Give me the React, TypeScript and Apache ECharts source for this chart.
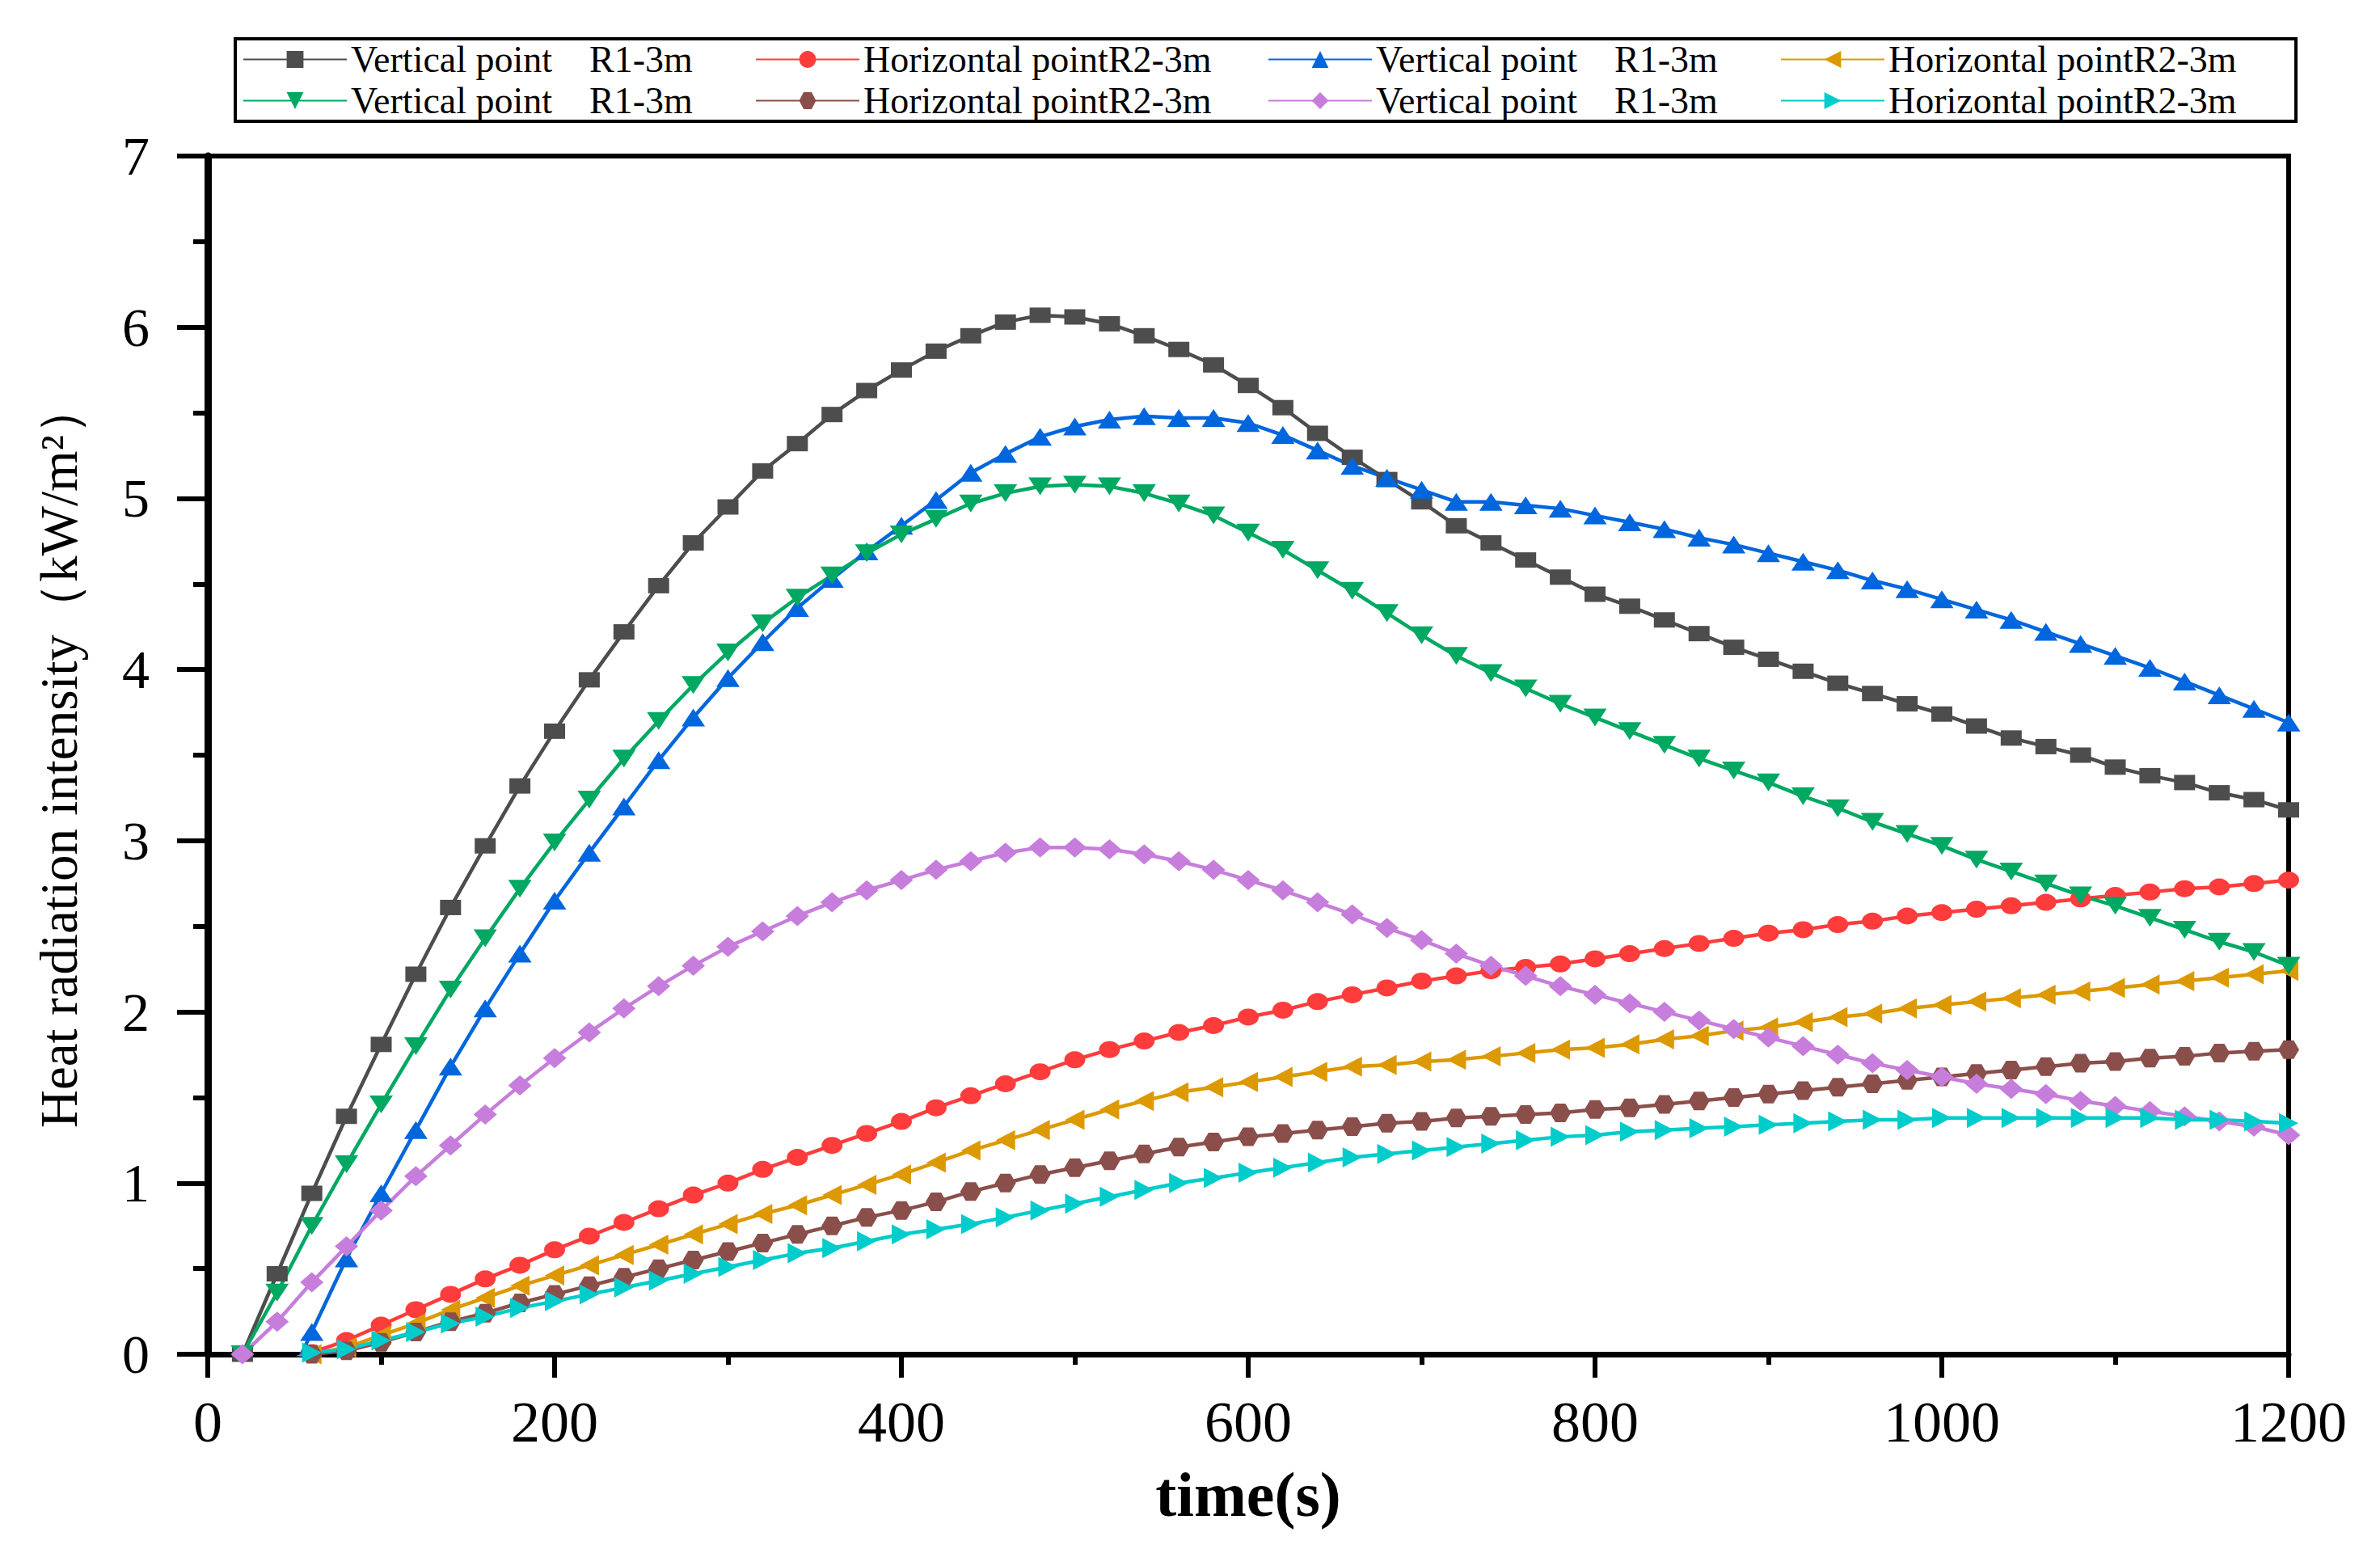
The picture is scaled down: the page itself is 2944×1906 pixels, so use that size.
import React, { useEffect, useRef } from 'react';
import * as echarts from 'echarts';

const times = [20, 40, 60, 80, 100, 120, 140, 160, 180, 200, 220, 240, 260, 280, 300, 320, 340, 360, 380, 400,
  420, 440, 460, 480, 500, 520, 540, 560, 580, 600, 620, 640, 660, 680, 700, 720, 740, 760, 780, 800,
  820, 840, 860, 880, 900, 920, 940, 960, 980, 1000, 1020, 1040, 1060, 1080, 1100, 1120, 1140, 1160, 1180, 1200];

const verticalA = [0, 0.47, 0.94, 1.39, 1.81, 2.22, 2.61, 2.97, 3.32, 3.64, 3.94, 4.22, 4.49, 4.74, 4.95, 5.16, 5.32, 5.49, 5.63, 5.75,
  5.86, 5.95, 6.03, 6.07, 6.06, 6.02, 5.95, 5.87, 5.78, 5.66, 5.53, 5.38, 5.24, 5.11, 4.98, 4.84, 4.74, 4.64, 4.54, 4.44,
  4.37, 4.29, 4.21, 4.13, 4.06, 3.99, 3.92, 3.86, 3.80, 3.74, 3.67, 3.60, 3.55, 3.50, 3.43, 3.38, 3.34, 3.28, 3.24, 3.18];

const horizontalA = [null, -0.06, 0.01, 0.08, 0.17, 0.26, 0.35, 0.44, 0.52, 0.61, 0.69, 0.77, 0.85, 0.93, 1.00, 1.08, 1.15, 1.22, 1.29, 1.36,
  1.44, 1.51, 1.58, 1.65, 1.72, 1.78, 1.83, 1.88, 1.92, 1.97, 2.01, 2.06, 2.10, 2.14, 2.18, 2.21, 2.24, 2.26, 2.28, 2.31,
  2.34, 2.37, 2.40, 2.43, 2.46, 2.48, 2.51, 2.53, 2.56, 2.58, 2.60, 2.62, 2.64, 2.66, 2.68, 2.70, 2.72, 2.73, 2.75, 2.77];

const verticalB = [null, -0.3, 0.13, 0.56, 0.94, 1.31, 1.68, 2.02, 2.34, 2.65, 2.93, 3.20, 3.47, 3.72, 3.95, 4.16, 4.36, 4.53, 4.69, 4.84,
  4.99, 5.15, 5.26, 5.36, 5.42, 5.46, 5.48, 5.47, 5.47, 5.44, 5.37, 5.28, 5.19, 5.12, 5.05, 4.98, 4.98, 4.96, 4.94, 4.90,
  4.86, 4.82, 4.77, 4.73, 4.68, 4.63, 4.58, 4.52, 4.47, 4.41, 4.35, 4.29, 4.22, 4.15, 4.08, 4.01, 3.93, 3.85, 3.77, 3.69];

const horizontalB = [null, -0.06, 0.0, 0.04, 0.11, 0.18, 0.26, 0.33, 0.40, 0.46, 0.52, 0.58, 0.64, 0.70, 0.76, 0.82, 0.87, 0.93, 0.99, 1.05,
  1.12, 1.19, 1.25, 1.31, 1.37, 1.43, 1.48, 1.53, 1.56, 1.59, 1.62, 1.65, 1.68, 1.69, 1.71, 1.72, 1.74, 1.76, 1.78, 1.79,
  1.81, 1.84, 1.86, 1.89, 1.91, 1.94, 1.97, 1.99, 2.02, 2.04, 2.06, 2.08, 2.10, 2.12, 2.14, 2.16, 2.18, 2.20, 2.22, 2.24];

const verticalC = [0, 0.36, 0.75, 1.11, 1.46, 1.80, 2.13, 2.43, 2.72, 2.99, 3.24, 3.48, 3.70, 3.91, 4.10, 4.27, 4.42, 4.55, 4.68, 4.79,
  4.88, 4.97, 5.03, 5.07, 5.08, 5.07, 5.03, 4.97, 4.90, 4.80, 4.70, 4.58, 4.46, 4.33, 4.20, 4.08, 3.98, 3.89, 3.80, 3.72,
  3.64, 3.56, 3.48, 3.41, 3.34, 3.26, 3.19, 3.11, 3.04, 2.97, 2.89, 2.82, 2.75, 2.68, 2.62, 2.55, 2.48, 2.41, 2.35, 2.27];

const horizontalC = [null, -0.06, 0.0, 0.02, 0.07, 0.13, 0.19, 0.24, 0.30, 0.35, 0.40, 0.45, 0.50, 0.55, 0.60, 0.65, 0.70, 0.75, 0.80, 0.84,
  0.89, 0.95, 1.00, 1.05, 1.09, 1.13, 1.17, 1.21, 1.24, 1.27, 1.29, 1.31, 1.33, 1.35, 1.36, 1.38, 1.39, 1.40, 1.41, 1.43,
  1.44, 1.46, 1.48, 1.50, 1.52, 1.54, 1.56, 1.58, 1.60, 1.62, 1.64, 1.66, 1.68, 1.70, 1.71, 1.73, 1.74, 1.76, 1.77, 1.78];

const verticalD = [0, 0.19, 0.42, 0.63, 0.84, 1.04, 1.22, 1.40, 1.57, 1.73, 1.88, 2.02, 2.15, 2.27, 2.38, 2.47, 2.56, 2.64, 2.71, 2.77,
  2.83, 2.88, 2.93, 2.96, 2.96, 2.95, 2.92, 2.88, 2.83, 2.77, 2.71, 2.64, 2.57, 2.49, 2.42, 2.34, 2.27, 2.21, 2.15, 2.10,
  2.05, 2.00, 1.95, 1.90, 1.85, 1.80, 1.75, 1.70, 1.66, 1.62, 1.58, 1.55, 1.52, 1.48, 1.45, 1.42, 1.39, 1.36, 1.33, 1.28];

const horizontalD = [null, -0.06, 0.01, 0.03, 0.08, 0.13, 0.18, 0.22, 0.27, 0.31, 0.35, 0.39, 0.43, 0.47, 0.51, 0.55, 0.59, 0.62, 0.66, 0.70,
  0.73, 0.76, 0.80, 0.84, 0.88, 0.92, 0.96, 1.00, 1.03, 1.06, 1.09, 1.12, 1.15, 1.17, 1.19, 1.21, 1.23, 1.25, 1.27, 1.28,
  1.30, 1.31, 1.32, 1.33, 1.34, 1.35, 1.36, 1.37, 1.37, 1.38, 1.38, 1.38, 1.38, 1.38, 1.38, 1.38, 1.37, 1.37, 1.36, 1.35];

const VERT = 'Vertical point    R1-3m';
const HORI = 'Horizontal pointR2-3m';
const xTicks = [0, 1200, 200];
const yTicks = [0, 7, 1];

const seriesDefs = [
  { label: VERT, values: verticalA, color: '#4d4d4d', symbol: 'rect', size: [26, 19] },
  { label: HORI, values: horizontalA, color: '#ff3c3c', symbol: 'circle', size: [26, 21] },
  { label: VERT, values: verticalB, color: '#0066dd', symbol: 'path://M5,0L10,10L0,10Z', size: [29, 22] },
  { label: HORI, values: horizontalB, color: '#dd9900', symbol: 'path://M0,5L10,0L10,10Z', size: [24, 25] },
  { label: VERT, values: verticalC, color: '#00a862', symbol: 'path://M0,0L10,0L5,10Z', size: [29, 22] },
  { label: HORI, values: horizontalC, color: '#8b4f4b', symbol: 'path://M2.6,0L7.4,0L10,5L7.4,10L2.6,10L0,5Z', size: [26, 23] },
  { label: VERT, values: verticalD, color: '#c77ddc', symbol: 'diamond', size: [29, 25] },
  { label: HORI, values: horizontalD, color: '#00cccc', symbol: 'path://M10,5L0,0L0,10Z', size: [24, 25] },
];

const SERIF = '"Liberation Serif", "Times New Roman", serif';

export default function App() {
  const ref = useRef<HTMLDivElement>(null);
  useEffect(() => {
    const chart = echarts.init(ref.current!, null, { renderer: 'svg' });
    const names = seriesDefs.map((d, i) => d.label + '\u200B'.repeat(i));
    const series = seriesDefs.map((d, i) => ({
      name: names[i],
      type: 'line',
      data: times.map((t, k) => [t, d.values[k]]).filter((p) => p[1] !== null),
      symbol: d.symbol,
      symbolSize: d.size,
      clip: true,
      lineStyle: { color: d.color, width: 4.5 },
      itemStyle: { color: d.color },
      emphasis: { disabled: true },
    }));
    const option: any = {
      animation: false,
      backgroundColor: '#ffffff',
      legend: {
        left: 291,
        top: 48,
        width: 2540,
        orient: 'horizontal',
        padding: [0, 4, 0, 9],
        itemGap: 0,
        itemWidth: 128,
        itemHeight: 26,
        borderColor: '#000',
        borderWidth: 4,
        data: names,
        formatter: (n: string) => n.replace(/\u200B/g, ''),
        textStyle: { fontFamily: SERIF, fontSize: 46, color: '#000', width: 500, lineHeight: 51 },
      },
      grid: {
        left: 257,
        right: 113,
        top: 193,
        bottom: 231,
        show: true,
        borderColor: '#000',
        borderWidth: 6,
        backgroundColor: 'transparent',
      },
      xAxis: {
        type: 'value',
        min: xTicks[0],
        max: xTicks[1],
        interval: xTicks[2],
        name: 'time(s)',
        nameLocation: 'middle',
        nameGap: 134,
        nameTextStyle: { fontFamily: SERIF, fontWeight: 'bold', fontSize: 78, color: '#000' },
        axisLine: { show: true, lineStyle: { color: '#000', width: 7 } },
        axisTick: { show: true, inside: false, length: 29, lineStyle: { color: '#000', width: 6 } },
        minorTick: { show: true, splitNumber: 2, length: 13, lineStyle: { color: '#000', width: 6 } },
        splitLine: { show: false },
        minorSplitLine: { show: false },
        axisLabel: {
          fontFamily: SERIF,
          fontSize: 72,
          color: '#000',
          margin: 48,
          formatter: (v: number) => String(v),
        },
      },
      yAxis: {
        type: 'value',
        min: yTicks[0],
        max: yTicks[1],
        interval: yTicks[2],
        name: 'Heat radiation intensity（kW/m²）',
        nameLocation: 'middle',
        nameRotate: 90,
        nameGap: 152,
        nameTextStyle: { fontFamily: SERIF, fontSize: 65, color: '#000' },
        axisLine: { show: true, lineStyle: { color: '#000', width: 9 } },
        axisTick: { show: true, inside: false, length: 38, lineStyle: { color: '#000', width: 6 } },
        minorTick: { show: true, splitNumber: 2, length: 18, lineStyle: { color: '#000', width: 6 } },
        splitLine: { show: false },
        minorSplitLine: { show: false },
        axisLabel: { fontFamily: SERIF, fontSize: 68, color: '#000', margin: 72 },
      },
      series,
    };
    chart.setOption(option);
    return () => chart.dispose();
  }, []);
  return (
    <div
      ref={ref}
      style={{ position: 'fixed', left: 0, top: 0, width: 2944, height: 1906, background: '#fff' }}
    />
  );
}
